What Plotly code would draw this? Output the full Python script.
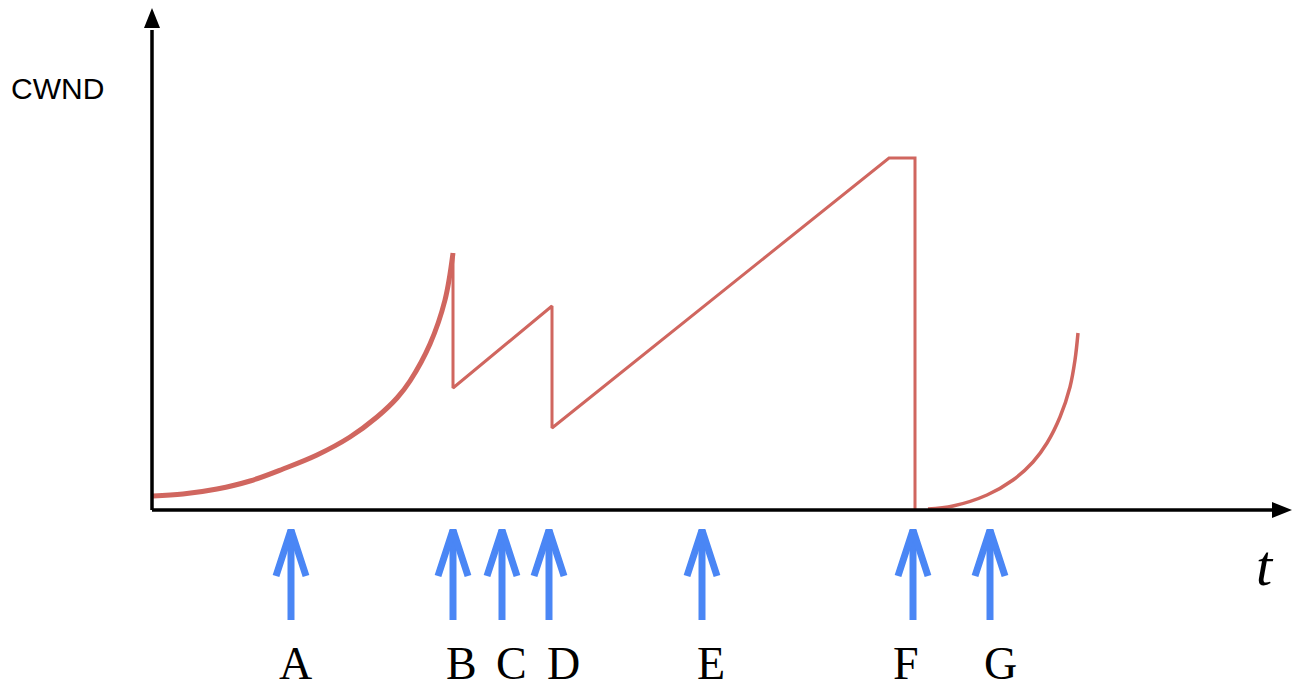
import plotly.graph_objects as go

# Data units: t (horizontal), cwnd (vertical); origin at axes corner
ss1_t = [1, 31, 65, 98, 131, 165, 198, 225, 245, 258, 278, 293, 301]
ss1_cwnd = [14, 16, 21, 29, 41, 55, 73, 93, 112, 129, 166, 210, 257]

saw_t = [301, 301, 400, 400, 737, 763, 763]
saw_cwnd = [257, 122, 204, 82, 352, 352, 0]

ss2_t = [776, 801, 835, 861, 881, 895, 908, 918, 923, 926]
ss2_cwnd = [1, 4, 15, 30, 48, 67, 93, 123, 150, 177]

event_labels = ["A", "B", "C", "D", "E", "F", "G"]
event_t = [139, 301, 350, 397, 550, 761, 838]
label_t = [143, 309, 359, 411, 559, 754, 848]

RED = "#d0665f"
BLUE = "#4a86f5"

fig = go.Figure()
fig.add_trace(go.Scatter(x=ss1_t, y=ss1_cwnd, mode="lines",
                         line=dict(color=RED, width=5, shape="spline", smoothing=1.0), hoverinfo="skip"))
fig.add_trace(go.Scatter(x=saw_t, y=saw_cwnd, mode="lines",
                         line=dict(color=RED, width=3), hoverinfo="skip"))
fig.add_trace(go.Scatter(x=ss2_t, y=ss2_cwnd, mode="lines",
                         line=dict(color=RED, width=3.5, shape="spline", smoothing=1.0), hoverinfo="skip"))

# Event arrows
tip, wing, bottom, half = -20, -66, -110, 15
for t in event_t:
    fig.add_trace(go.Scatter(x=[t, t], y=[tip, bottom], mode="lines",
                             line=dict(color=BLUE, width=7), hoverinfo="skip"))
    fig.add_trace(go.Scatter(x=[t - half, t, t + half], y=[wing, tip, wing], mode="lines",
                             line=dict(color=BLUE, width=7), hoverinfo="skip"))

annotations = []
for lab, t in zip(event_labels, label_t):
    annotations.append(dict(x=t, y=-153, text=lab, showarrow=False, xref="x", yref="y",
                            font=dict(family="Liberation Serif", size=46, color="black")))
annotations.append(dict(x=1113, y=-55, text="<i>t</i>", showarrow=False,
                        font=dict(family="Liberation Serif", size=58, color="black")))
annotations.append(dict(x=-95, y=422, text="CWND", showarrow=False,
                        font=dict(family="Liberation Sans", size=30, color="black")))

shapes = [
    dict(type="line", x0=0, y0=0, x1=0, y1=480, line=dict(color="black", width=3.5)),
    dict(type="path", path="M -8,482 L 8,482 L 0,502 Z", fillcolor="black", line=dict(width=0)),
    dict(type="line", x0=0, y0=0, x1=1122, y1=0, line=dict(color="black", width=3.5)),
    dict(type="path", path="M 1120,-8 L 1120,8 L 1140,0 Z", fillcolor="black", line=dict(width=0)),
]

fig.update_layout(
    width=1296, height=685,
    margin=dict(l=0, r=0, t=0, b=0),
    paper_bgcolor="white", plot_bgcolor="white",
    showlegend=False,
    xaxis=dict(range=[-144, 1152], visible=False, fixedrange=True),
    yaxis=dict(range=[-183, 502], visible=False, fixedrange=True),
    shapes=shapes, annotations=annotations,
)
fig.write_html("out.html")
